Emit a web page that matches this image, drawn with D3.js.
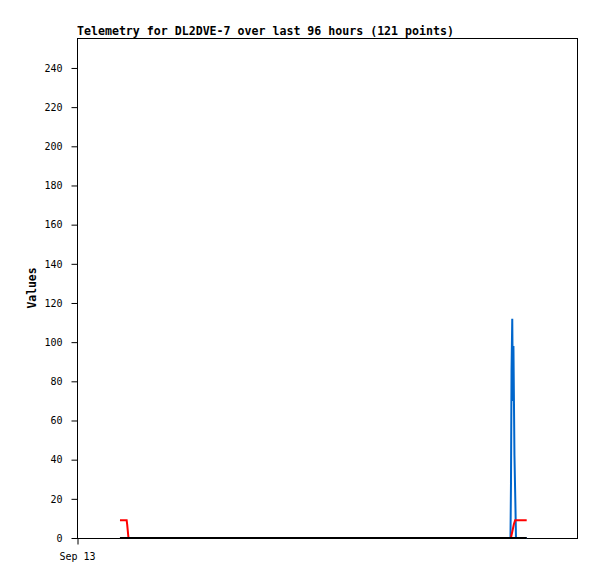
<!DOCTYPE html>
<html lang="en">
<head>
  <meta charset="UTF-8">
  <title>Telemetry for DL2DVE-7</title>
  <script src="https://d3js.org/d3.v7.min.js"></script>
  <style>
    body { margin: 0; background: #fff; }
    svg { display: block; }
    text { font-family: "DejaVu Sans Mono", monospace; fill: #000; }
  </style>
</head>
<body>
  <div id="chart"></div>
  <script>
    // hours after Sep 13 00:00
    const xDomainHours = [0, 118];
    const yTicks = [0, 20, 40, 60, 80, 100, 120, 140, 160, 180, 200, 220, 240];
    const xTickLabels = ['Sep 13'];

    const blueHours  = [10.14, 102.3, 102.42, 102.55, 102.72, 102.88, 103.0, 103.12, 103.24, 103.48, 103.6, 106.13];
    const blueValues = [0, 0, 28, 85, 112, 70, 98, 70, 42, 15, 0, 0];

    const redHours  = [10.14, 11.72, 11.84, 12.15, 102.4, 102.8, 103.1, 103.4, 106.13];
    const redValues = [9, 9, 7, 0, 0, 4, 7, 9, 9];

    const blackHours  = [10.14, 106.13];
    const blackValues = [0, 0];

    const W = 597, H = 579;
    const margin = { top: 38, right: 20, bottom: 41, left: 77 };
    const width = W - margin.left - margin.right;
    const height = H - margin.top - margin.bottom;

    const svg = d3.select('#chart').append('svg')
      .attr('width', W)
      .attr('height', H);

    const g = svg.append('g')
      .attr('transform', `translate(${margin.left},${margin.top})`);

    const x = d3.scaleLinear().domain(xDomainHours).range([0, width]);
    const y = d3.scaleLinear().domain([0, 255.3]).range([height, 0]);

    svg.append('text')
      .attr('x', margin.left)
      .attr('y', 35)
      .style('font-size', '11.6px')
      .style('font-weight', 'bold')
      .text('Telemetry for DL2DVE-7 over last 96 hours (121 points)');

    // frame
    g.append('rect')
      .attr('x', 0.5).attr('y', 0.5)
      .attr('width', width).attr('height', height)
      .attr('fill', 'none')
      .attr('stroke', '#000')
      .attr('stroke-width', 1);

    const yAxis = g.append('g')
      .attr('transform', 'translate(0.5,0)')
      .call(d3.axisLeft(y).tickValues(yTicks).tickSize(6).tickPadding(9));
    yAxis.select('.domain').remove();
    yAxis.selectAll('text')
      .style('font-size', '10px')
      .style('font-family', '"DejaVu Sans Mono", monospace');

    const xAxis = g.append('g')
      .attr('transform', `translate(0,${height + 0.5})`)
      .call(d3.axisBottom(x).tickValues([0]).tickSize(6).tickPadding(8)
        .tickFormat((d, i) => xTickLabels[i]));
    xAxis.select('.domain').remove();
    xAxis.selectAll('line').attr('transform', 'translate(0.5,0)');
    xAxis.selectAll('text')
      .style('font-size', '10px')
      .style('font-family', '"DejaVu Sans Mono", monospace');

    svg.append('text')
      .attr('transform', `translate(36,${margin.top + height / 2}) rotate(-90)`)
      .attr('text-anchor', 'middle')
      .style('font-size', '11.4px')
      .style('font-weight', 'bold')
      .text('Values');

    const line = d3.line()
      .x(d => x(d[0]))
      .y(d => y(d[1]));

    const series = [
      { hours: blueHours, values: blueValues, color: '#0066cc' },
      { hours: redHours, values: redValues, color: '#ff0000' },
      { hours: blackHours, values: blackValues, color: '#000000' }
    ];

    series.forEach(s => {
      g.append('path')
        .datum(s.hours.map((h, i) => [h, s.values[i]]))
        .attr('fill', 'none')
        .attr('stroke', s.color)
        .attr('stroke-width', 2)
        .attr('d', line);
    });
  </script>
</body>
</html>
